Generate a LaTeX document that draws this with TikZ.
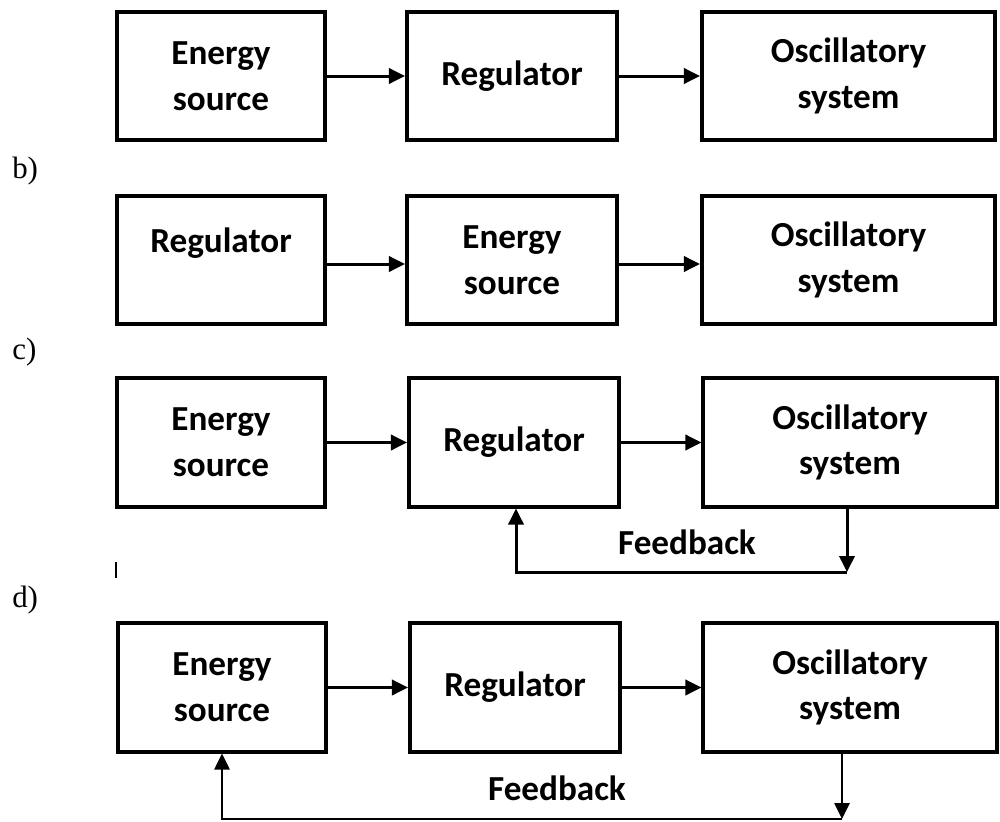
\documentclass[tikz,border=0pt]{standalone}
\usepackage{fontspec}
\setmainfont{Carlito}
\newfontfamily\serifletters{Liberation Serif}
\usetikzlibrary{arrows.meta,positioning}

\begin{document}
\begin{tikzpicture}[x=0.025cm, y=-0.025cm,
    >={Triangle[length=0.4cm,width=0.38cm]},
    blk/.style={draw, line width=0.1cm, minimum height=3.2cm, inner sep=0pt, align=center,
                font=\fontsize{25}{32.5}\selectfont\bfseries},
    txt/.style={inner sep=0pt, align=center, font=\fontsize{25}{32.5}\selectfont\bfseries},
    lbl/.style={inner sep=0pt, anchor=base west, font=\serifletters\fontsize{22}{26}\selectfont},
    flow/.style={->, line width=0.075cm},
    thinflow/.style={->, line width=0.05cm}]
  \useasboundingbox (0,0) rectangle (1000,822);

  % a)
  \node[blk, minimum width=5.2cm] (a1) at (221,76) {Energy\\source};
  \node[blk, minimum width=5.25cm] (a2) at (512,76) {Regulator};
  \node[blk, minimum width=7.325cm] (a3) at (848.5,76) {Oscillatory\\system};
  \draw[flow] (a1) -- (a2);
  \draw[flow] (a2) -- (a3);

  % b)
  \node[lbl] (lb) at (12,178) {b)};
  \node[blk, minimum width=5.2cm] (b1) at (221,260) {};
  \node[txt] (b1t) at (221,243) {Regulator};
  \node[blk, minimum width=5.25cm] (b2) at (512,260) {Energy\\source};
  \node[blk, minimum width=7.325cm] (b3) at (848.5,260) {Oscillatory\\system};
  \draw[flow] (b1.east |- 0,264) -- (b2.west |- 0,264);
  \draw[flow] (b2.east |- 0,264) -- (b3.west |- 0,264);

  % c)
  \node[lbl] (lc) at (12,359) {c)};
  \node[blk, minimum width=5.2cm] (c1) at (221,442.5) {Energy\\source};
  \node[blk, minimum width=5.25cm] (c2) at (514,442.5) {Regulator};
  \node[blk, minimum width=7.325cm] (c3) at (850,442.5) {Oscillatory\\system};
  \draw[flow] (c1) -- (c2);
  \draw[flow] (c2) -- (c3);
  \coordinate (cfr) at (847,572);
  \coordinate (cfl) at (516,572);
  \draw[flow] (c3.south -| cfr) -- (cfr);
  \draw[flow] (cfr) -- (cfl) -- (cfl |- c2.south);
  \node[txt] (cfb) at (687,542) {Feedback};
  \draw[line width=0.03cm] (116,562) -- (116,578);

  % d)
  \node[lbl] (ld) at (12,607) {d)};
  \node[blk, minimum width=5.2cm] (d1) at (222,687.5) {Energy\\source};
  \node[blk, minimum width=5.25cm] (d2) at (515,687.5) {Regulator};
  \node[blk, minimum width=7.325cm] (d3) at (850,687.5) {Oscillatory\\system};
  \draw[flow] (d1) -- (d2);
  \draw[flow] (d2) -- (d3);
  \coordinate (dfr) at (842,819);
  \coordinate (dfl) at (222,819);
  \draw[thinflow] (d3.south -| dfr) -- (dfr);
  \draw[thinflow] (dfr) -- (dfl) -- (dfl |- d1.south);
  \node[txt] (dfb) at (557,788) {Feedback};
\end{tikzpicture}
\end{document}
